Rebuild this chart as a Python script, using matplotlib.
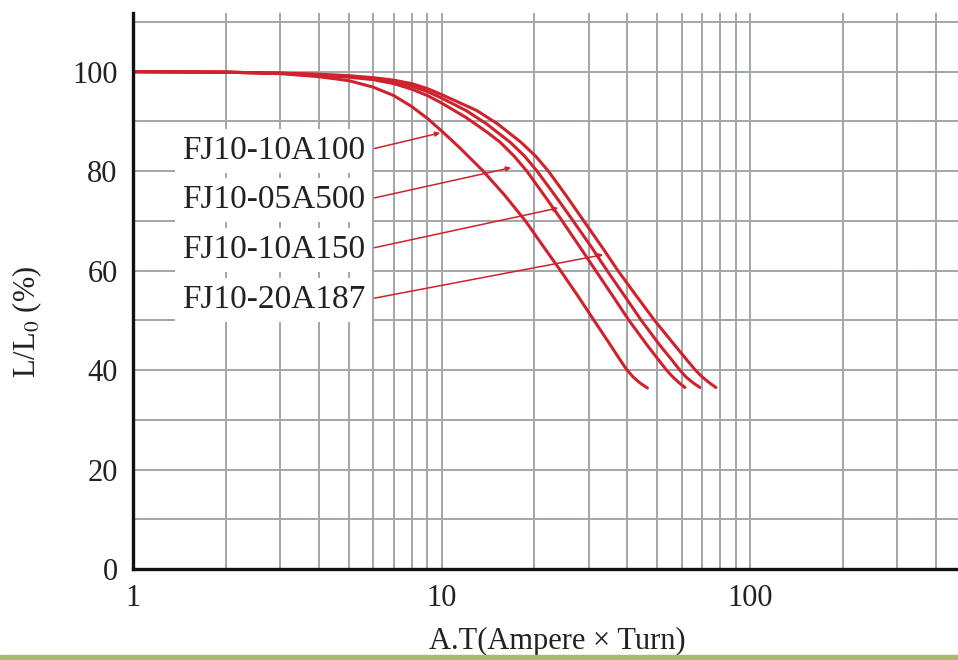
import matplotlib
matplotlib.use("Agg")
import matplotlib.pyplot as plt
from matplotlib.patches import Rectangle

plt.rcParams["font.family"] = ["Liberation Serif", "DejaVu Serif"]
plt.rcParams["mathtext.fontset"] = "stix"

# ----------------------------
# Data
# ----------------------------
names = ["FJ10-10A100", "FJ10-05A500", "FJ10-10A150", "FJ10-20A187"]

a_x = [1, 2, 3, 4, 5, 6, 7, 8, 9, 10, 11.5, 13.6, 16, 18.7, 21.3, 24.3, 27.6, 31.2, 35.3, 37.4,
       39.6, 41.8, 44.2, 46.5]
a_y = [100, 99.9, 99.6, 99.0, 98.2, 96.9, 95.2, 93.0, 90.6, 88.1, 84.6, 80.1, 75.2, 70.0, 65.0,
       60.0, 55.0, 50.0, 45.0, 42.6, 40.3, 38.6, 37.3, 36.4]

b_x = [1, 2, 3, 4, 5, 6, 7, 8, 9, 10, 12, 14, 15.5, 17.2, 18.9, 21.6, 24.6, 27.9, 31.6, 35.8, 40.5,
       46.4, 50, 53.6, 56, 59, 61.5]
b_y = [100, 99.9, 99.7, 99.3, 98.9, 98.4, 97.6, 96.5, 95.2, 93.7, 90.8, 87.9, 85.8, 83.0, 80.0,
       75.0, 70.0, 65.0, 60.0, 55.0, 50.0, 45.0, 42.4, 40.0, 38.7, 37.4, 36.5]

c_x = [1, 2, 3, 4, 5, 6, 7, 8, 9, 10, 12, 14, 16.7, 18.6, 20.4, 23.4, 26.7, 30.4, 34.4, 39.1, 44.4,
       51, 55, 59.2, 62, 65.5, 68.8]
c_y = [100, 99.9, 99.7, 99.4, 99.0, 98.6, 98.0, 97.1, 96.0, 94.7, 92.2, 89.5, 85.8, 83.0, 80.0,
       75.0, 70.0, 65.0, 60.0, 55.0, 50.0, 45.0, 42.5, 40.0, 38.6, 37.4, 36.5]

d_x = [1, 2, 3, 4, 5, 6, 7, 8, 9, 10, 13, 15.2, 18.1, 20.2, 22.2, 25.4, 28.9, 32.9, 37.3, 42.7, 49,
       57, 61.5, 66.5, 70, 74, 77.5]
d_y = [100, 99.9, 99.7, 99.5, 99.2, 98.8, 98.3, 97.6, 96.6, 95.4, 92.2, 89.5, 85.8, 83.0, 80.0,
       75.0, 70.0, 65.0, 60.0, 55.0, 50.0, 45.0, 42.5, 40.0, 38.6, 37.4, 36.5]

curves = [(a_x, a_y), (b_x, b_y), (c_x, c_y), (d_x, d_y)]

# label text anchors and leader targets (data coords)
label_x = 5.65
label_y = [84.1, 74.2, 64.2, 54.1]
target_x = [9.9, 16.8, 23.9, 33.4]
target_y = [87.7, 80.7, 72.6, 63.2]

y_major = [0, 20, 40, 60, 80, 100]
y_minor = [10, 30, 50, 70, 90, 110]
x_major = [1, 10, 100]
x_minor = [2, 3, 4, 5, 6, 7, 8, 9, 20, 30, 40, 50, 60, 70, 80, 90, 200, 300, 400]

red = "#d0222c"
grid_col = "#a3a6a9"
text_col = "#222222"

# ----------------------------
# Plot
# ----------------------------
fig = plt.figure(figsize=(9.58, 6.6), dpi=100)
ax = fig.add_axes([133 / 958, 91 / 660, 825 / 958, 556 / 660])

for xs, ys in curves:
    ax.plot(xs, ys, color=red, lw=2.2, solid_capstyle="round",
            solid_joinstyle="round", zorder=3)

ax.set_xscale("log")
ax.set_xlim(1, 472)
ax.set_ylim(0, 111.8)

ax.set_xticks(x_major)
ax.set_xticklabels([str(v) for v in x_major])
ax.set_xticks(x_minor, minor=True)
ax.set_xticklabels([], minor=True)
ax.set_yticks(y_major)
ax.set_yticks(y_minor, minor=True)

ax.grid(True, which="both", color=grid_col, lw=1.4, zorder=1)
ax.set_axisbelow(True)
ax.tick_params(which="both", length=0, labelsize=22, colors=text_col)
ax.tick_params(axis="y", pad=11)
ax.tick_params(axis="x", pad=11)

for s in ["top", "right"]:
    ax.spines[s].set_visible(False)
for s in ["left", "bottom"]:
    ax.spines[s].set_linewidth(2.4)
    ax.spines[s].set_color("#111111")
    ax.spines[s].set_zorder(4)

ax.set_ylabel(r"L/L$_{\mathrm{0}}$ (%)", fontsize=22, color=text_col)
ax.yaxis.set_label_coords(-0.108, 0.445)
ax.set_xlabel("A.T(Ampere × Turn)", fontsize=22, color=text_col)
ax.xaxis.set_label_coords(0.514, -0.105)

for name, ly, tx, ty in zip(names, label_y, target_x, target_y):
    ax.annotate(
        name, xy=(tx, ty), xytext=(label_x, ly),
        ha="right", va="center", fontsize=24, color=text_col,
        bbox=dict(boxstyle="square,pad=0.2", fc="white", ec="none"),
        arrowprops=dict(arrowstyle="-|>", color=red, lw=1.1, mutation_scale=7,
                        shrinkA=2, shrinkB=0, relpos=(1, 0.5)),
        zorder=5,
    )

# green strip along the bottom edge
fig.add_artist(Rectangle((0, 0), 1, 5 / 660, transform=fig.transFigure,
                         color="#a8bb6c", zorder=10))

fig.savefig("out.png", dpi=100)
